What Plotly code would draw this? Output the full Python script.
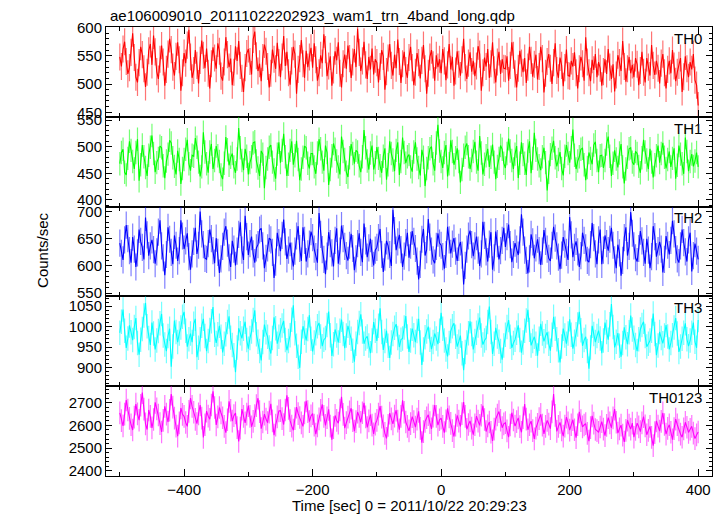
import plotly.graph_objects as go
from plotly.subplots import make_subplots

title_text = "ae106009010_20111022202923_wam1_trn_4band_long.qdp"
band_names = ["TH0", "TH1", "TH2", "TH3", "TH0123"]
t_start = -500.0
t_step = 2.5

th0 = [548, 531, 562, 575, 540, 518, 529, 556, 590, 547, 512, 503, 538, 566, 552, 527, 495, 521, 559, 571,
       534, 586, 557, 522, 509, 544, 568, 539, 497, 526, 553, 580, 561, 530, 515, 549, 574, 543, 488, 520,
       555, 537, 569, 596, 548, 511, 524, 560, 533, 501, 542, 577, 551, 528, 563, 519, 492, 536, 565, 546,
       527, 572, 558, 514, 506, 539, 583, 552, 530, 545, 498, 521, 567, 541, 576, 533, 510, 486, 529, 554,
       562, 540, 517, 579, 593, 550, 523, 536, 505, 547, 570, 558, 531, 494, 519, 561, 544, 527, 573, 538,
       512, 548, 585, 532, 557, 520, 499, 541, 566, 553, 483, 526, 545, 578, 536, 511, 559, 530, 548, 564,
       529, 572, 543, 506, 520, 551, 537, 588, 561, 514, 532, 549, 497, 525, 558, 542, 574, 519, 494, 536,
       552, 527, 568, 545, 511, 539, 562, 530, 598, 556, 523, 541, 575, 534, 509, 548, 526, 563, 517, 544,
       538, 503, 531, 560, 549, 490, 522, 546, 571, 533, 515, 552, 528, 579, 540, 502, 536, 557, 524, 511,
       547, 566, 529, 498, 521, 555, 538, 510, 542, 569, 527, 483, 519, 548, 560, 534, 506, 551, 530, 544,
       519, 562, 541, 507, 534, 571, 526, 548, 497, 523, 558, 535, 515, 543, 580, 529, 509, 537, 556, 522,
       541, 514, 532, 567, 553, 488, 520, 547, 531, 562, 511, 536, 574, 525, 503, 539, 557, 518, 544, 528,
       527, 549, 506, 533, 574, 551, 518, 494, 528, 559, 537, 521, 546, 502, 530, 566, 542, 513, 535, 552,
       508, 531, 566, 545, 485, 519, 540, 553, 528, 500, 538, 572, 524, 511, 547, 533, 496, 529, 561, 515,
       514, 541, 531, 556, 520, 492, 527, 548, 536, 506, 583, 539, 520, 505, 543, 525, 553, 512, 539, 528,
       497, 522, 544, 518, 562, 530, 509, 535, 487, 516, 551, 538, 523, 576, 531, 504, 527, 548, 519, 534,
       512, 546, 535, 498, 524, 557, 521, 503, 546, 530, 515, 569, 533, 516, 541, 528, 501, 537, 553, 520,
       492, 526, 541, 519, 560, 532, 505, 521, 533, 546, 486, 513, 549, 527, 512, 539, 526, 553, 507, 498,
       462]

th1 = [468, 489, 495, 452, 447, 478, 510, 493, 472, 458, 489, 514, 436, 466, 503, 481, 461, 445, 484, 499,
       521, 487, 452, 470, 478, 501, 498, 464, 441, 473, 486, 512, 507, 479, 463, 448, 492, 476, 430, 459,
       476, 495, 513, 468, 455, 484, 482, 516, 499, 471, 444, 462, 527, 490, 468, 451, 490, 505, 458, 474,
       501, 483, 472, 447, 439, 469, 518, 494, 465, 480, 487, 462, 451, 477, 535, 498, 474, 456, 496, 482,
       448, 470, 481, 507, 509, 473, 460, 445, 492, 486, 422, 461, 477, 499, 503, 471, 456, 440, 486, 508,
       470, 493, 524, 481, 445, 467, 493, 510, 466, 483, 511, 476, 437, 458, 480, 501, 498, 469, 459, 487,
       487, 462, 449, 488, 514, 496, 471, 455, 502, 489, 428, 457, 483, 506, 495, 473, 462, 448, 519, 491,
       476, 452, 443, 479, 505, 487, 468, 493, 490, 464, 452, 481, 531, 498, 473, 457, 488, 502, 457, 470,
       499, 478, 464, 451, 482, 497, 438, 466, 510, 487, 475, 454, 493, 508, 447, 472, 517, 489, 469, 481,
       485, 462, 453, 490, 508, 477, 461, 446, 494, 480, 426, 459, 479, 496, 500, 468, 455, 507, 541, 492,
       472, 460, 489, 503, 444, 468, 512, 491, 466, 479, 497, 472, 433, 457, 484, 499, 506, 481, 458, 474,
       491, 509, 471, 455, 520, 488, 448, 467, 483, 496, 462, 480, 504, 471, 439, 463, 478, 502, 495, 469,
       460, 487, 515, 492, 474, 458, 486, 501, 441, 469, 508, 485, 469, 447, 492, 510, 450, 478, 526, 493,
       477, 464, 456, 481, 498, 470, 418, 452, 485, 497, 511, 479, 463, 476, 490, 459, 446, 482, 503, 487,
       470, 498, 532, 484, 458, 473, 481, 495, 497, 466, 437, 461, 489, 478, 467, 503, 509, 474, 452, 483,
       484, 460, 474, 505, 519, 482, 445, 469, 493, 477, 461, 488, 505, 462, 431, 458, 480, 496, 498, 471,
       466, 491, 487, 463, 451, 479, 513, 490, 475, 458, 496, 471, 442, 466, 483, 502, 470, 487, 507, 480,
       459, 476, 491, 462, 478, 497, 440, 465, 502, 486, 468, 449, 517, 491, 454, 472, 486, 463, 473, 489,
       462]

th2 = [642, 623, 611, 648, 675, 650, 628, 606, 653, 631, 598, 624, 667, 645, 634, 612, 689, 657, 619, 637,
       648, 630, 604, 626, 662, 684, 637, 615, 583, 621, 671, 649, 625, 603, 656, 638, 609, 628, 684, 655,
       631, 646, 660, 617, 593, 622, 645, 670, 622, 638, 700, 659, 639, 614, 612, 641, 667, 650, 628, 605,
       651, 625, 587, 613, 636, 662, 673, 642, 615, 598, 646, 631, 601, 627, 658, 680, 629, 611, 692, 654,
       620, 641, 654, 622, 606, 633, 639, 666, 669, 637, 596, 614, 633, 651, 648, 625, 578, 607, 661, 643,
       627, 656, 685, 644, 613, 629, 643, 618, 599, 627, 655, 673, 632, 609, 671, 647, 608, 622, 640, 663,
       652, 631, 617, 606, 697, 658, 630, 612, 585, 618, 662, 641, 624, 599, 647, 669, 604, 627, 674, 650,
       636, 619, 610, 638, 659, 632, 592, 613, 641, 660, 625, 607, 678, 646, 616, 633, 650, 623, 601, 629,
       634, 652, 668, 621, 589, 616, 646, 637, 621, 600, 703, 665, 629, 644, 657, 630, 598, 618, 643, 661,
       615, 638, 664, 645, 632, 609, 575, 603, 649, 668, 619, 630, 686, 653, 627, 611, 605, 636, 660, 642,
       638, 617, 595, 621, 672, 648, 623, 640, 651, 627, 609, 634, 644, 620, 566, 601, 631, 655, 665, 639,
       618, 637, 654, 629, 600, 622, 681, 656, 626, 608, 640, 662, 593, 615, 663, 641, 612, 628, 647, 670,
       635, 654, 676, 639, 607, 621, 642, 631, 620, 648, 695, 662, 629, 610, 586, 613, 658, 644, 614, 633,
       649, 628, 602, 627, 666, 645, 631, 614, 609, 638, 672, 651, 637, 616, 594, 620, 653, 640, 625, 611,
       690, 657, 616, 634, 645, 626, 598, 619, 661, 647, 633, 610, 607, 639, 679, 652, 622, 603, 648, 667,
       603, 629, 656, 641, 628, 649, 670, 638, 611, 596, 639, 624, 582, 610, 652, 671, 619, 636, 699, 660,
       637, 615, 608, 632, 664, 646, 625, 604, 650, 629, 596, 617, 673, 654, 617, 628, 644, 631, 588, 612,
       655, 638, 621, 647, 683, 659, 630, 613, 606, 637, 667, 643, 626, 608, 648, 661, 590, 619, 641, 627,
       612]

th3 = [985, 1012, 1042, 990, 948, 971, 1003, 986, 967, 999, 1021, 960, 931, 968, 994, 1027, 1058, 1001, 972, 955,
       1010, 983, 944, 966, 989, 1008, 1031, 978, 956, 940, 977, 995, 902, 951, 1015, 987, 962, 983, 998, 1024,
       1036, 990, 951, 969, 983, 962, 1007, 1019, 925, 948, 969, 1002, 1019, 977, 940, 965, 992, 1013, 1048, 980,
       960, 981, 1002, 975, 937, 958, 981, 1011, 1025, 973, 955, 930, 888, 949, 996, 984, 971, 995, 1012, 967,
       946, 972, 988, 1016, 1040, 981, 963, 940, 917, 962, 1005, 986, 975, 949, 934, 972, 1023, 996, 958, 975,
       991, 1003, 1014, 967, 942, 965, 979, 1017, 1052, 984, 953, 926, 899, 963, 1001, 985, 966, 994, 1028, 970,
       939, 961, 984, 1001, 1009, 976, 952, 968, 972, 1004, 1037, 979, 928, 957, 993, 978, 961, 990, 1017, 982,
       947, 978, 1002, 985, 970, 941, 914, 958, 987, 1009, 1030, 988, 958, 971, 976, 954, 935, 966, 1011, 990,
       965, 1002, 1045, 987, 943, 965, 990, 953, 923, 961, 982, 997, 1006, 972, 950, 968, 971, 998, 1026, 976,
       938, 966, 995, 979, 962, 989, 1019, 961, 906, 944, 974, 988, 1000, 968, 945, 962, 983, 971, 957, 990,
       1034, 995, 966, 944, 927, 960, 989, 1001, 1008, 975, 951, 963, 978, 935, 893, 938, 961, 984, 1013, 982,
       944, 965, 985, 1003, 1022, 978, 956, 966, 972, 1011, 1049, 987, 933, 958, 997, 976, 963, 940, 919, 954,
       980, 999, 1016, 975, 948, 960, 968, 985, 1003, 967, 936, 961, 990, 1015, 1041, 992, 954, 965, 975, 958,
       929, 970, 1007, 983, 964, 977, 986, 958, 941, 980, 1024, 995, 969, 942, 912, 951, 995, 978, 958, 983,
       1018, 980, 946, 963, 981, 1005, 1036, 991, 953, 967, 975, 940, 897, 949, 1002, 982, 962, 977, 990, 971,
       935, 966, 1010, 987, 968, 1006, 1055, 999, 949, 963, 984, 953, 926, 960, 998, 974, 957, 986, 1027, 993,
       973, 955, 940, 969, 993, 1004, 1012, 977, 951, 958, 966, 990, 1032, 982, 930, 954, 987, 972, 959, 978,
       1004, 976, 944, 960, 979, 998, 1021, 983, 938, 951, 970, 985, 1008, 969, 952, 966, 985, 1010, 963, 948,
       1016]

th0123 = [2655, 2621, 2598, 2650, 2712, 2668, 2631, 2603, 2580, 2637, 2694, 2651, 2623, 2689, 2745, 2672, 2607, 2582, 2668, 2640,
          2589, 2626, 2702, 2673, 2646, 2608, 2571, 2622, 2684, 2650, 2615, 2667, 2738, 2681, 2632, 2597, 2553, 2611, 2677, 2649,
          2640, 2613, 2596, 2662, 2721, 2684, 2658, 2627, 2608, 2651, 2690, 2632, 2547, 2603, 2663, 2641, 2627, 2690, 2751, 2679,
          2602, 2638, 2679, 2655, 2634, 2596, 2568, 2625, 2706, 2667, 2619, 2643, 2655, 2590, 2529, 2588, 2672, 2640, 2611, 2650,
          2687, 2640, 2594, 2618, 2643, 2687, 2720, 2661, 2586, 2615, 2650, 2628, 2612, 2659, 2695, 2620, 2557, 2601, 2638, 2664,
          2665, 2630, 2604, 2668, 2733, 2675, 2621, 2597, 2579, 2630, 2681, 2652, 2635, 2611, 2596, 2655, 2708, 2661, 2617, 2642,
          2652, 2601, 2562, 2598, 2629, 2667, 2693, 2640, 2600, 2634, 2671, 2597, 2537, 2590, 2644, 2622, 2610, 2668, 2726, 2649,
          2588, 2612, 2637, 2660, 2676, 2621, 2575, 2617, 2659, 2640, 2614, 2656, 2700, 2638, 2591, 2620, 2648, 2601, 2563, 2606,
          2622, 2650, 2685, 2637, 2598, 2565, 2543, 2600, 2654, 2629, 2607, 2641, 2667, 2619, 2581, 2640, 2711, 2658, 2615, 2596,
          2576, 2608, 2639, 2617, 2593, 2628, 2662, 2587, 2524, 2573, 2618, 2634, 2647, 2612, 2585, 2641, 2690, 2640, 2601, 2625,
          2632, 2596, 2568, 2620, 2675, 2638, 2609, 2577, 2551, 2601, 2644, 2619, 2596, 2652, 2703, 2640, 2583, 2604, 2620, 2588,
          2559, 2603, 2641, 2619, 2600, 2645, 2687, 2626, 2573, 2598, 2615, 2570, 2532, 2584, 2628, 2646, 2661, 2623, 2590, 2607,
          2612, 2576, 2548, 2602, 2656, 2624, 2597, 2617, 2633, 2595, 2570, 2634, 2694, 2628, 2581, 2603, 2619, 2577, 2541, 2588,
          2605, 2630, 2649, 2601, 2563, 2596, 2622, 2606, 2586, 2660, 2738, 2644, 2574, 2596, 2613, 2580, 2553, 2597, 2637, 2611,
          2579, 2603, 2625, 2581, 2546, 2603, 2660, 2621, 2594, 2602, 2608, 2565, 2531, 2590, 2642, 2610, 2582, 2577, 2569, 2593,
          2617, 2584, 2555, 2600, 2634, 2611, 2590, 2633, 2672, 2614, 2566, 2585, 2601, 2557, 2527, 2578, 2623, 2601, 2584, 2610,
          2548, 2582, 2610, 2594, 2573, 2611, 2639, 2598, 2559, 2578, 2596, 2547, 2511, 2568, 2620, 2597, 2575, 2618, 2655, 2604,
          2562, 2587, 2603, 2570, 2537, 2586, 2628, 2603, 2580, 2562, 2548, 2585, 2614, 2592, 2569, 2583, 2596, 2566, 2542, 2558,
          2571]

errors = [24, 22, 25, 30, 50]

series = [th0, th1, th2, th3, th0123]
colors = ["#ff0000", "#00ff00", "#0000ff", "#00ffff", "#ff00ff"]
err_colors = ["rgba(255,0,0,0.55)", "rgba(0,255,0,0.55)", "rgba(0,0,255,0.5)",
              "rgba(0,255,255,0.55)", "rgba(255,0,255,0.55)"]
y_ranges = [[442, 601], [387.5, 556], [544, 709], [854, 1074], [2377, 2773]]
y_dticks = [50, 50, 50, 50, 100]
y_minor = [10, 10, 10, 10, 20]

FONT = "Liberation Sans, Arial, Helvetica, sans-serif"
FS = 15

fig = make_subplots(rows=5, cols=1, shared_xaxes=True, vertical_spacing=0)

for i, ys in enumerate(series):
    ts = [t_start + k * t_step for k in range(len(ys))]
    fig.add_trace(go.Scatter(
        x=ts, y=ys, mode="lines",
        line=dict(color=colors[i], width=1.1),
        error_y=dict(type="constant", value=errors[i], color=err_colors[i],
                     thickness=1.2, width=0),
        showlegend=False, hoverinfo="skip"), row=i + 1, col=1)
    fig.update_yaxes(range=y_ranges[i], dtick=y_dticks[i], tick0=0,
                     ticks="inside", ticklen=6, tickwidth=1, tickcolor="black",
                     minor=dict(dtick=y_minor[i], ticks="inside", ticklen=3,
                                tickcolor="black", tickwidth=1),
                     showline=True, linecolor="black", linewidth=1,
                     mirror="allticks", showgrid=False, zeroline=False,
                     tickfont=dict(size=FS, color="black", family=FONT),
                     row=i + 1, col=1)
    fig.update_xaxes(range=[-521.5, 421.5], dtick=200, tick0=0,
                     ticks="inside", ticklen=7, tickwidth=1, tickcolor="black",
                     minor=dict(dtick=100, ticks="inside", ticklen=4,
                                tickcolor="black", tickwidth=1),
                     showline=True, linecolor="black", linewidth=1,
                     mirror="allticks", showgrid=False, zeroline=False,
                     showticklabels=(i == 4),
                     tickfont=dict(size=FS, color="black", family=FONT),
                     row=i + 1, col=1)
    yref = "y domain" if i == 0 else f"y{i + 1} domain"
    xref = "x domain" if i == 0 else f"x{i + 1} domain"
    fig.add_annotation(text=band_names[i], xref=xref, yref=yref, x=0.987, y=0.99,
                       xanchor="right", yanchor="top", showarrow=False,
                       font=dict(size=FS, color="black", family=FONT))

fig.add_annotation(text=title_text, xref="paper", yref="paper", x=0.003, y=1.0245,
                   xanchor="left", yanchor="middle", showarrow=False,
                   font=dict(size=FS, color="black", family=FONT))
fig.add_annotation(text="Counts/sec", xref="paper", yref="paper", x=-0.106, y=0.503,
                   xanchor="center", yanchor="middle", textangle=-90, showarrow=False,
                   font=dict(size=FS, color="black", family=FONT))
fig.add_annotation(text="Time [sec] 0 = 2011/10/22 20:29:23", xref="paper", yref="paper",
                   x=0.5, y=-0.066, xanchor="center", yanchor="middle", showarrow=False,
                   font=dict(size=FS, color="black", family=FONT))

# page has an 8px body margin, so the figure is offset by 8px
fig.update_layout(width=716, height=508, margin=dict(l=98, r=12, t=19, b=40),
                  paper_bgcolor="white", plot_bgcolor="white",
                  font=dict(family=FONT, color="black", size=FS))

fig.write_html("out.html")
